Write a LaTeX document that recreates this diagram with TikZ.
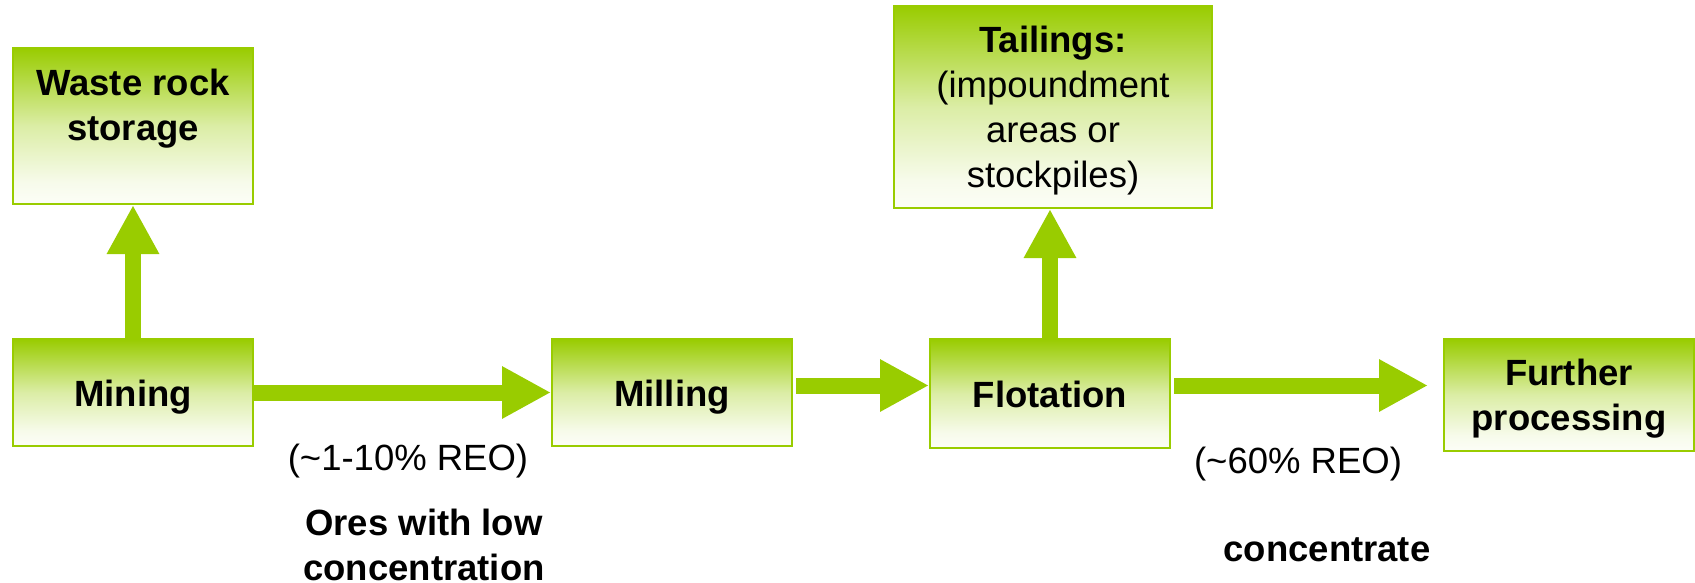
\documentclass[tikz,border=0pt]{standalone}
\usepackage{fontspec}
\setmainfont{Liberation Sans}
\usetikzlibrary{arrows.meta}
\definecolor{gr}{RGB}{153,204,0}
\pgfdeclareverticalshading{boxgrad}{100bp}{color(0bp)=(white); color(25bp)=(gr!3!white); color(32bp)=(gr!8!white); color(50bp)=(gr!35!white); color(75bp)=(gr); color(100bp)=(gr)}
\begin{document}
\begin{tikzpicture}[x=1pt,y=-1pt,
  box/.style={draw=gr, line width=2pt, shading=boxgrad, inner sep=0pt, align=center,
              font=\fontsize{36.5}{45}\selectfont\bfseries},
  one/.style={text height=27pt, text depth=0pt},
  flow/.style={draw=gr, line width=16pt, line cap=butt, -{Triangle[length=49pt,width=49pt]}},
  lbl/.style={align=center, inner sep=0pt, font=\fontsize{36.5}{45}\selectfont},
  blbl/.style={lbl, font=\fontsize{36.5}{45}\selectfont\bfseries}]
\useasboundingbox (0,0) rectangle (1695,583);

\node[box, minimum width=240pt, minimum height=156pt] (waste) at (133,126) {};
\node[blbl] (wastetext) at (133,109) {Waste rock\\storage};
\node[box, one, minimum width=240pt, minimum height=107pt] (mining) at (133,392.5) {Mining};
\node[box, one, minimum width=240pt, minimum height=107pt] (milling) at (672,392.5) {Milling};
\node[box, one, minimum width=240pt, minimum height=109pt] (flotation) at (1050,393.5) {Flotation};
\node[box, minimum width=318pt, minimum height=202pt] (tailings) at (1053,107) {};
\node[lbl] (tailtext) at (1053,111) {\textbf{Tailings:}\\(impoundment\\areas or\\stockpiles)};
\node[box, minimum width=250pt, minimum height=112pt] (further) at (1569,395) {};
\node[blbl] (furthertext) at (1569,399) {Further\\processing};

\draw[flow] (mining.north) -- (waste.south);
\draw[flow] (mining.east) -- (milling.west);
\coordinate (me) at ([yshift=7pt]milling.east);
\draw[flow] ([xshift=3pt]me) -- (me -| flotation.west);
\coordinate (fe) at ([yshift=8pt]flotation.east);
\coordinate (ft) at (fe -| further.west);
\draw[flow] ([xshift=3pt]fe) -- ([xshift=-15pt]ft);
\draw[flow] (flotation.north) -- (flotation.north |- tailings.south);

\node[lbl] (reo1) at (408,461) {(\textasciitilde1-10\% REO)};
\node[blbl] (ores) at (424,545) {Ores with low\\concentration};
\node[lbl] (reo2) at (1298,464) {(\textasciitilde60\% REO)};
\node[blbl] (conc) at (1327,550) {concentrate};
\end{tikzpicture}
\end{document}
